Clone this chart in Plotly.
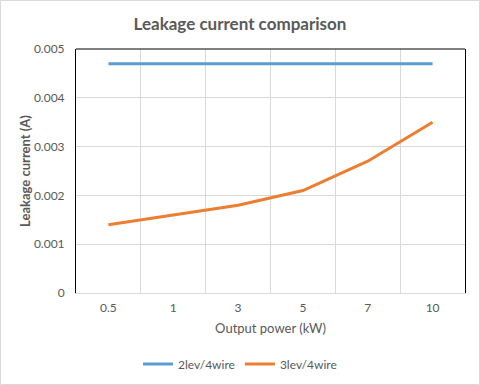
import plotly.graph_objects as go

categories = ["0.5", "1", "3", "5", "7", "10"]
series_2lev = [0.0047, 0.0047, 0.0047, 0.0047, 0.0047, 0.0047]
series_3lev = [0.0014, 0.0016, 0.0018, 0.0021, 0.0027, 0.0035]
y_tickvals = [0, 0.001, 0.002, 0.003, 0.004, 0.005]
y_ticktext = ["0", "0.001", "0.002", "0.003", "0.004", "0.005"]

FONT = "Lato"
GRAY = "#595959"

fig = go.Figure()
fig.add_trace(go.Scatter(x=categories, y=series_2lev, mode="lines", name="2lev/4wire",
                         line=dict(color="#5B9BD5", width=3)))
fig.add_trace(go.Scatter(x=categories, y=series_3lev, mode="lines", name="3lev/4wire",
                         line=dict(color="#ED7D31", width=3)))

fig.update_layout(
    width=480, height=385,
    margin=dict(l=76, r=15, t=49, b=92),
    paper_bgcolor="white", plot_bgcolor="white",
    font=dict(family=FONT, color=GRAY, size=12),
    title=dict(text="<b>Leakage current comparison</b>", x=0.5, xanchor="center", xref="container",
               y=1 - 24 / 385, yanchor="middle", yref="container",
               font=dict(size=17, color=GRAY, family=FONT)),
    showlegend=True,
    legend=dict(orientation="h", x=0.5, xanchor="center", xref="container",
                y=1 - 364 / 385, yanchor="middle", yref="container",
                font=dict(size=12, color=GRAY), itemwidth=30),
    xaxis=dict(type="category", range=[-0.5, 5.5], tickson="boundaries",
               showgrid=True, gridcolor="#D9D9D9", gridwidth=1,
               showline=True, linecolor="#D9D9D9", linewidth=1,
               ticks="", ticklabelstandoff=4,
               tickfont=dict(size=12, color=GRAY),
               title=dict(text="Output power (kW)", font=dict(size=13, color=GRAY), standoff=9),
               zeroline=False),
    yaxis=dict(range=[0, 0.005], tickvals=y_tickvals, ticktext=y_ticktext,
               showgrid=True, gridcolor="#D9D9D9", gridwidth=1,
               showline=True, linecolor="black", linewidth=1, mirror=True,
               ticks="outside", ticklen=8, tickcolor="rgba(0,0,0,0)",
               tickfont=dict(size=12, color=GRAY),
               title=dict(text="<b>Leakage current (A)</b>", font=dict(size=13, color=GRAY), standoff=0),
               zeroline=False),
)

# top black border of the plot area
fig.add_shape(type="line", xref="paper", yref="paper", x0=0, x1=1, y0=1, y1=1,
              line=dict(color="black", width=1))
# light chart-area border
fig.add_shape(type="rect", xref="paper", yref="paper",
              x0=(0.5 - 76) / 389, x1=(479.5 - 76) / 389,
              y0=(293 - 384.5) / 244, y1=(293 - 0.5) / 244,
              line=dict(color="#D9D9D9", width=1), layer="below")

fig.write_html("out.html", config={"displayModeBar": False},
               post_script="document.body.style.margin='0';")
